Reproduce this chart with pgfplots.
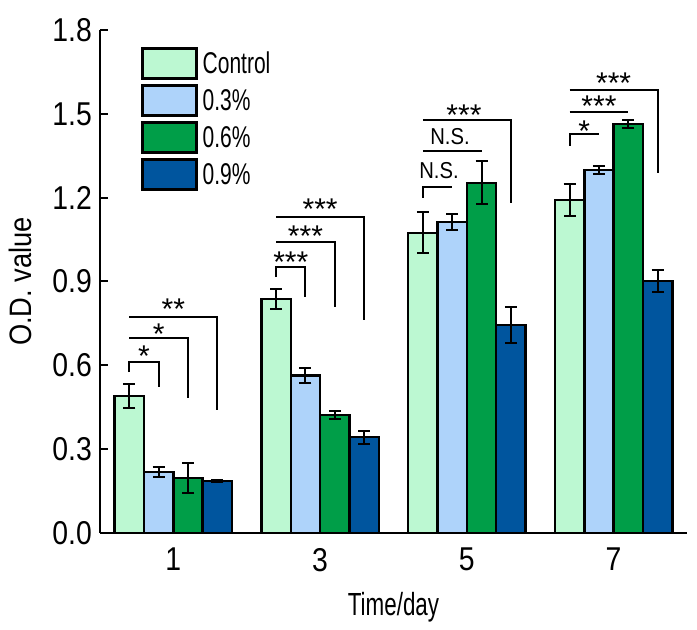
\documentclass[border=0pt]{standalone}
\usepackage{pgfplots}
\pgfplotsset{compat=1.18}
\usepackage{pgfplotstable}
\usepackage{fontspec}
\setmainfont{Liberation Sans}
\newfontfamily\narrowA{Liberation Sans}[FakeStretch=0.70]
\newfontfamily\narrowB{Liberation Sans}[FakeStretch=0.86]
\newfontfamily\narrowC{Liberation Sans}[FakeStretch=0.88]
\definecolor{cmint}{RGB}{188,248,210}
\definecolor{clblue}{RGB}{174,211,250}
\definecolor{cgreen}{RGB}{0,158,72}
\definecolor{cdblue}{RGB}{0,85,158}

\pgfplotstableread{
x c ce a ae b be d de
0 0.490 0.044 0.218 0.017 0.197 0.054 0.186 0.005
1 0.837 0.037 0.563 0.027 0.422 0.014 0.343 0.023
2 1.074 0.073 1.113 0.029 1.253 0.077 0.744 0.064
3 1.192 0.058 1.299 0.014 1.464 0.014 0.902 0.039
}\datatab

\begin{document}
\begin{tikzpicture}
\begin{axis}[
  scale only axis, width=587pt, height=503pt,
  xmin=-0.5, xmax=3.5, ymin=0, ymax=1.8,
  axis lines*=left,
  axis line style={line width=2pt, black},
  clip=false,
  ybar=0pt, bar width=0.2,
  xtick={0,1,2,3}, xticklabels={1,3,5,7},
  ytick={0,0.3,0.6,0.9,1.2,1.5,1.8},
  /pgf/number format/assume math mode=true,
  y tick label style={/pgf/number format/fixed, /pgf/number format/fixed zerofill, /pgf/number format/precision=1},
  tick align=inside,
  major tick length=8pt,
  major tick style={line width=2pt, black},
  xtick style={draw=none},
  yticklabel style={font=\narrowB\fontsize{33}{33}\selectfont, inner sep=0pt, xshift=-8pt},
  xticklabel style={font=\narrowB\fontsize{33}{33}\selectfont, inner sep=0pt, yshift=-15pt},
  xlabel={Time/day},
  ylabel={O.D. value},
  xlabel style={font=\narrowA\fontsize{32}{32}\selectfont, at={(axis description cs:0.5,-0.117)}, anchor=north, inner sep=0pt},
  ylabel style={font=\narrowC\fontsize{31}{31}\selectfont, at={(axis description cs:-0.136,0.5)}, anchor=center, inner sep=0pt},
  legend style={draw=none, fill=none, at={(axis description cs:0.069,0.967)}, anchor=north west, inner sep=0pt, row sep=4pt, column sep=5pt, nodes={inner sep=0pt, font=\narrowA\fontsize{30}{30}\selectfont}},
  legend cell align=left,
  every axis plot post/.append style={legend image code/.code={\draw[##1, line width=3pt] (1.5pt,-15pt) rectangle (55.5pt,15pt);}},
  error bars/error bar style={line width=2pt, black},
  error bars/error mark options={rotate=90, mark size=6pt, line width=2pt, black},
]
\addplot[fill=cmint, draw=black, line width=2.5pt, error bars/.cd, y dir=both, y explicit] table[x=x, y=c, y error=ce]{\datatab};
\addplot[fill=clblue, draw=black, line width=2.5pt, error bars/.cd, y dir=both, y explicit] table[x=x, y=a, y error=ae]{\datatab};
\addplot[fill=cgreen, draw=black, line width=2.5pt, error bars/.cd, y dir=both, y explicit] table[x=x, y=b, y error=be]{\datatab};
\addplot[fill=cdblue, draw=black, line width=2.5pt, error bars/.cd, y dir=both, y explicit] table[x=x, y=d, y error=de]{\datatab};
\legend{Control,0.3\%,0.6\%,0.9\%}

% significance brackets
\begin{scope}[line width=2pt]
% day 1
\draw (axis cs:-0.3,0.576) -- (axis cs:-0.3,0.612) -- (axis cs:-0.1,0.612) -- (axis cs:-0.1,0.523);
\draw (axis cs:-0.3,0.698) -- (axis cs:0.1,0.698) -- (axis cs:0.1,0.483);
\draw (axis cs:-0.3,0.773) -- (axis cs:0.3,0.773) -- (axis cs:0.3,0.440);
% day 3
\draw (axis cs:0.7,0.916) -- (axis cs:0.7,0.952) -- (axis cs:0.9,0.952) -- (axis cs:0.9,0.845);
\draw (axis cs:0.7,1.040) -- (axis cs:1.1,1.040) -- (axis cs:1.1,0.810);
\draw (axis cs:0.7,1.130) -- (axis cs:1.3,1.130) -- (axis cs:1.3,0.762);
% day 5
\draw (axis cs:1.7,1.199) -- (axis cs:1.7,1.238) -- (axis cs:1.9,1.238);
\draw (axis cs:1.7,1.367) -- (axis cs:2.1,1.367);
\draw (axis cs:1.7,1.478) -- (axis cs:2.3,1.478) -- (axis cs:2.3,1.180);
% day 7
\draw (axis cs:2.7,1.385) -- (axis cs:2.7,1.428) -- (axis cs:2.9,1.428);
\draw (axis cs:2.7,1.507) -- (axis cs:3.1,1.507);
\draw (axis cs:2.7,1.586) -- (axis cs:3.3,1.586) -- (axis cs:3.3,1.288);
\end{scope}
\begin{scope}[every node/.style={inner sep=0pt, font=\fontsize{30}{30}\selectfont}]
\node at (axis cs:-0.2,0.633) {*};
\node at (axis cs:-0.1,0.713) {*};
\node at (axis cs:0.0,0.801) {**};
\node at (axis cs:0.8,0.968) {***};
\node at (axis cs:0.9,1.063) {***};
\node at (axis cs:1.0,1.158) {***};
\node at (axis cs:1.98,1.495) {***};
\node at (axis cs:2.8,1.438) {*};
\node at (axis cs:2.9,1.528) {***};
\node at (axis cs:3.0,1.610) {***};
\end{scope}
\begin{scope}[every node/.style={inner sep=0pt, font=\narrowC\fontsize{23}{23}\selectfont}]
\node at (axis cs:1.81,1.296) {N.S.};
\node at (axis cs:1.885,1.417) {N.S.};
\end{scope}
\end{axis}
\path (current axis.south west) ++(-100pt,-97pt);
\path (current axis.north east) ++(10pt,30pt);
\end{tikzpicture}
\end{document}
